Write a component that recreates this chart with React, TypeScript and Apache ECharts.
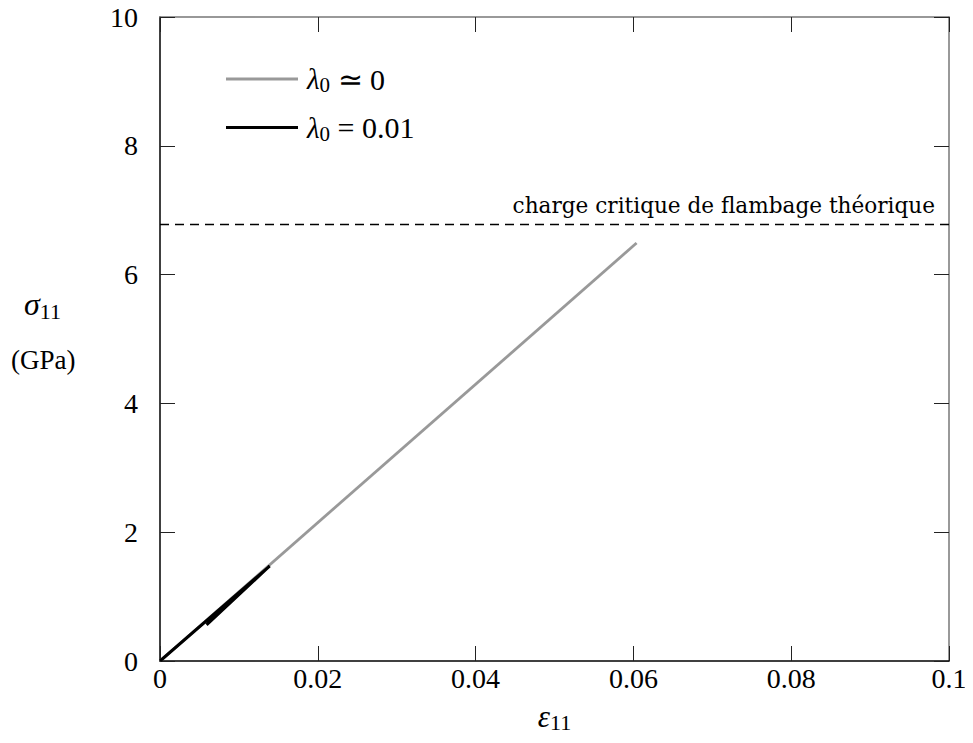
import React, { useEffect, useRef } from "react";
import * as echarts from "echarts";

const xTicks = [0, 0.02, 0.04, 0.06, 0.08, 0.1];
const yTicks = [0, 2, 4, 6, 8, 10];
const grayName = "lam0approx";
const blackName = "lam001";
const grayData: [number, number][] = [
  [0, 0],
  [0.0604, 6.49],
];
const blackData: [number, number][] = [
  [0, 0],
  [0.0139, 1.475],
  [0.0059, 0.56],
];
const criticalLoad = 6.78;
const criticalLabel = "charge critique de flambage théorique";

const FONT = "Liberation Serif";
const LABEL_FONT = "DejaVu Serif";

export default function App() {
  const ref = useRef<HTMLDivElement>(null);
  useEffect(() => {
    if (!ref.current) return;
    const chart = echarts.init(ref.current, undefined, { renderer: "svg" });
    const axisLine = { show: true, onZero: false, lineStyle: { color: "#000", width: 1.5 } };
    const axisLine2 = { show: true, onZero: false, lineStyle: { color: "#777", width: 1.5 } };
    const tickStyle = { show: true, inside: true, length: 15, lineStyle: { color: "#222", width: 1 } };
    const labelStyle = { fontFamily: FONT, fontSize: 28, color: "#000" };
    chart.setOption({
      animation: false,
      backgroundColor: "#fff",
      grid: { left: 160, right: 24, top: 17, bottom: 82, outerBoundsMode: "none", containLabel: false },
      xAxis: [
        {
          type: "value",
          min: 0,
          max: 0.1,
          interval: 0.02,
          axisLine,
          axisTick: tickStyle,
          splitLine: { show: false },
          axisLabel: {
            ...labelStyle,
            margin: 3,
            formatter: (v: number) => {
              const t = xTicks.find((x) => Math.abs(x - v) < 1e-9);
              return t === undefined ? "" : String(t);
            },
          },
          name: "{e|ε}{s|11}",
          nameLocation: "middle",
          nameGap: 38,
          nameTextStyle: {
            rich: {
              e: { fontFamily: FONT, fontSize: 31, fontStyle: "italic", color: "#000" },
              s: { fontFamily: FONT, fontSize: 22, color: "#000", padding: [12, 0, 0, 0] },
            },
          },
        },
        {
          type: "value",
          position: "top",
          min: 0,
          max: 0.1,
          interval: 0.02,
          axisLine: axisLine2,
          axisTick: tickStyle,
          axisLabel: { show: false },
          splitLine: { show: false },
        },
      ],
      yAxis: [
        {
          type: "value",
          min: 0,
          max: 10,
          interval: 2,
          axisLine,
          axisTick: tickStyle,
          splitLine: { show: false },
          axisLabel: {
            ...labelStyle,
            margin: 22,
            formatter: (v: number) => {
              const t = yTicks.find((y) => Math.abs(y - v) < 1e-9);
              return t === undefined ? "" : String(t);
            },
          },
        },
        {
          type: "value",
          position: "right",
          min: 0,
          max: 10,
          interval: 2,
          axisLine: axisLine2,
          axisTick: tickStyle,
          axisLabel: { show: false },
          splitLine: { show: false },
        },
      ],
      legend: {
        orient: "vertical",
        left: 221,
        top: 59,
        itemWidth: 72,
        itemHeight: 3,
        itemGap: 17,
        icon: "rect",
        data: [grayName, blackName],
        formatter: (name: string) =>
          name === grayName ? "{l|λ}{s|0}{n| ≃ 0}" : "{l|λ}{s|0}{n| = 0.01}",
        textStyle: {
          padding: [0, 0, 0, 4],
          rich: {
            l: { fontFamily: FONT, fontSize: 29, fontStyle: "italic", color: "#000" },
            s: { fontFamily: FONT, fontSize: 21, color: "#000", padding: [12, 0, 0, 0] },
            n: { fontFamily: FONT, fontSize: 30, color: "#000" },
          },
        },
      },
      series: [
        {
          name: grayName,
          type: "line",
          data: grayData,
          showSymbol: false,
          symbol: "none",
          color: "#999999",
          lineStyle: { color: "#999999", width: 2.8 },
          z: 2,
          markLine: {
            silent: true,
            symbol: "none",
            lineStyle: { color: "#000", type: [9, 6], width: 1.3 },
            label: {
              show: true,
              position: "insideEndTop",
              formatter: criticalLabel,
              fontFamily: LABEL_FONT,
              fontSize: 21.6,
              color: "#000",
              distance: [14, 8],
            },
            data: [{ yAxis: criticalLoad }],
          },
        },
        {
          name: blackName,
          type: "line",
          data: blackData,
          showSymbol: false,
          symbol: "none",
          color: "#000",
          lineStyle: { color: "#000", width: 3 },
          z: 3,
        },
      ],
      graphic: [
        {
          type: "text",
          left: 24,
          top: 288,
          style: {
            text: "{g|σ}{s|11}",
            rich: {
              g: { fontFamily: FONT, fontSize: 32, fontStyle: "italic", fill: "#000" },
              s: { fontFamily: FONT, fontSize: 22, fill: "#000", padding: [14, 0, 0, 0] },
            } as any,
          },
        },
        {
          type: "text",
          left: 11,
          top: 346,
          style: { text: "(GPa)", fontFamily: FONT, fontSize: 27, fill: "#000" },
        },
      ],
    });
    return () => chart.dispose();
  }, []);
  return <div ref={ref} style={{ width: 973, height: 743, margin: -8 }} />;
}
